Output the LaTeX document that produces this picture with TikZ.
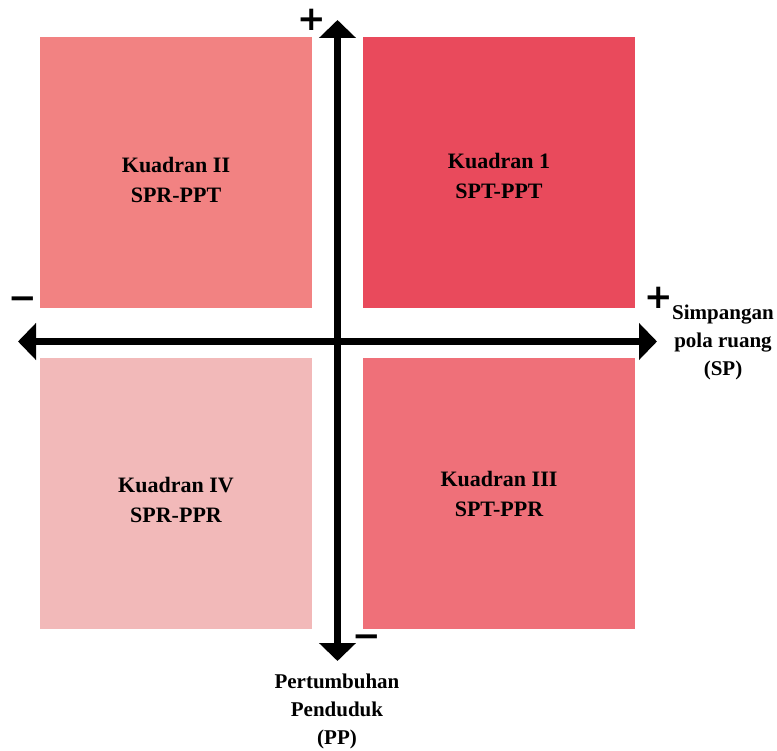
\documentclass[tikz,border=0pt]{standalone}
\usepackage{fontspec}
\setmainfont{Liberation Serif}
\newfontfamily\signfont{DejaVu Sans}
\usetikzlibrary{arrows.meta}

\definecolor{kwI}{HTML}{E94A5C}
\definecolor{kwII}{HTML}{F28282}
\definecolor{kwIII}{HTML}{EF7079}
\definecolor{kwIV}{HTML}{F2B9B9}

\begin{document}
\begin{tikzpicture}[x=1pt, y=-1pt, >={Triangle[length=18pt,width=36pt]},
    quad/.style={minimum width=272pt, minimum height=271pt, inner sep=0pt},
    quadtext/.style={align=center, inner sep=0pt, font=\fontsize{22}{30}\selectfont\bfseries},
    sign/.style={inner sep=0pt, font=\signfont\fontsize{34}{34}\selectfont\bfseries},
    axlabel/.style={align=center, inner sep=0pt, font=\fontsize{21}{28}\selectfont\bfseries}]
    \useasboundingbox (0,0) rectangle (777,751);
    % kuadran
    \node[quad, fill=kwII] (q2) at (176,172.5) {};
    \node[quad, fill=kwI] (q1) at (499,172.5) {};
    \node[quad, fill=kwIV] (q4) at (176,493.5) {};
    \node[quad, fill=kwIII] (q3) at (499,493.5) {};
    \node[quadtext, yshift=-7pt] (t2) at (q2.center) {Kuadran II\\SPR-PPT};
    \node[quadtext, yshift=-3pt] (t1) at (q1.center) {Kuadran 1\\SPT-PPT};
    \node[quadtext, yshift=-6pt] (t4) at (q4.center) {Kuadran IV\\SPR-PPR};
    \node[quadtext] (t3) at (q3.center) {Kuadran III\\SPT-PPR};
    % sumbu
    \coordinate (W) at (18,341.5);
    \coordinate (E) at (657,341.5);
    \coordinate (N) at (337.5,20);
    \coordinate (S) at (337.5,661);
    \draw[<->, line width=6.5pt] (W) -- (E);
    \draw[<->, line width=6.5pt] (N) -- (S);
    % tanda
    \node[sign] (plusN) at (312,20) {+};
    \node[sign] (plusE) at (659,298) {+};
    \node[sign] (minW) at (23,303) {−};
    \node[sign] (minS) at (367,641) {−};
    % label sumbu
    \node[axlabel] (sp) at (723,342) {Simpangan\\pola ruang\\(SP)};
    \node[axlabel] (pp) at (337,711) {Pertumbuhan\\Penduduk\\(PP)};
\end{tikzpicture}
\end{document}
